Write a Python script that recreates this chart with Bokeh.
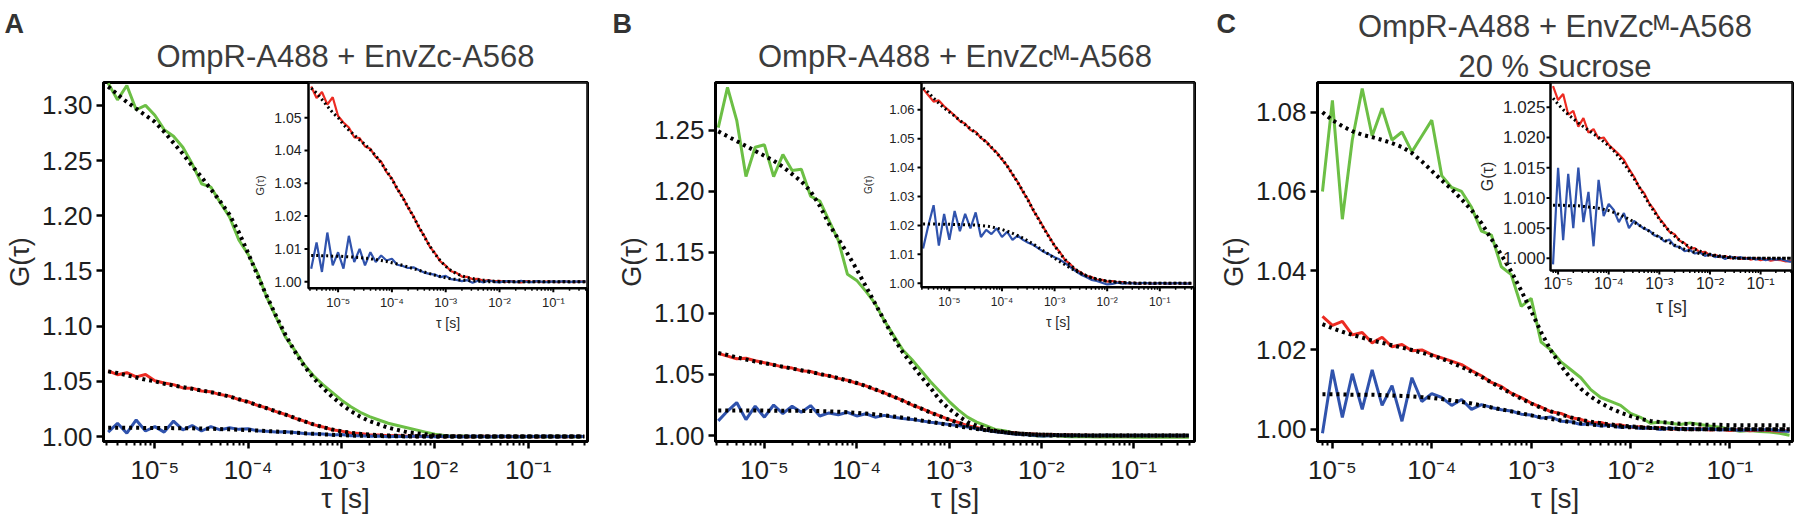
import math
from bokeh.plotting import figure
from bokeh.layouts import row
from bokeh.models import Range1d, FixedTicker, PrintfTickFormatter, Title, CustomJSTickFormatter
from bokeh.core.properties import value
from bokeh.embed import file_html
from bokeh.resources import INLINE

# ---------------- data ----------------
LOG_TAU_AB = [-5.5, -5.4, -5.3, -5.2, -5.1, -5.0, -4.9, -4.8, -4.7, -4.6,
              -4.5, -4.4, -4.3, -4.2, -4.1, -4.0, -3.9, -3.8, -3.7, -3.6,
              -3.5, -3.4, -3.3, -3.2, -3.1, -3.0, -2.9, -2.8, -2.7, -2.6,
              -2.5, -2.4, -2.3, -2.2, -2.1, -2.0, -1.9, -1.8, -1.7, -1.6,
              -1.5, -1.4, -1.3, -1.2, -1.1, -1.0, -0.9, -0.8, -0.7, -0.6,
              -0.5, -0.4]
LOG_TAU_C = [-5.1, -5.0, -4.9, -4.8, -4.7, -4.6, -4.5, -4.4, -4.3, -4.2,
             -4.1, -4.0, -3.9, -3.8, -3.7, -3.6, -3.5, -3.4, -3.3, -3.2,
             -3.1, -3.0, -2.9, -2.8, -2.7, -2.6, -2.5, -2.4, -2.3, -2.2,
             -2.1, -2.0, -1.9, -1.8, -1.7, -1.6, -1.5, -1.4, -1.3, -1.2,
             -1.1, -1.0, -0.9, -0.8, -0.7, -0.6, -0.5, -0.4]

# Panel A
A_GREEN = [1.320, 1.305, 1.318, 1.296, 1.300, 1.291, 1.278, 1.272, 1.262, 1.247,
           1.229, 1.226, 1.212, 1.199, 1.178, 1.165, 1.148, 1.126, 1.108, 1.090,
           1.078, 1.065, 1.055, 1.047, 1.040, 1.033, 1.027, 1.022, 1.018, 1.015,
           1.012, 1.010, 1.008, 1.006, 1.004, 1.002, 1.001, 1.000, 1.0005, 0.9998,
           1.0002, 0.9999, 1.0001, 1.0000, 0.9998, 1.0001, 1.0000, 0.9999, 1.0002, 1.0000,
           0.9999, 1.0001]
A_GREEN_FIT = [1.317, 1.310, 1.303, 1.297, 1.291, 1.285, 1.276, 1.266, 1.256, 1.245,
               1.235, 1.224, 1.213, 1.201, 1.185, 1.166, 1.146, 1.127, 1.109, 1.092,
               1.077, 1.064, 1.053, 1.044, 1.036, 1.029, 1.023, 1.018, 1.014, 1.011,
               1.008, 1.006, 1.004, 1.003, 1.002, 1.001, 1.0005, 1.0002, 1.0001, 1.0,
               1.0, 1.0, 1.0, 1.0, 1.0, 1.0, 1.0, 1.0, 1.0, 1.0,
               1.0, 1.0]
A_RED = [1.0595, 1.0560, 1.0578, 1.0540, 1.0562, 1.0505, 1.0485, 1.0470, 1.0440, 1.0438,
         1.0412, 1.0405, 1.0380, 1.0366, 1.0334, 1.0315, 1.0282, 1.0258, 1.0226, 1.0200,
         1.0166, 1.0140, 1.0108, 1.0087, 1.0062, 1.0049, 1.0032, 1.0027, 1.0016, 1.0015,
         1.0008, 1.0009, 1.0003, 1.0005, 1.0001, 1.0003, 0.9999, 1.0002, 1.0000, 0.9998,
         1.0002, 1.0000, 1.0001, 0.9999, 1.0001, 1.0000, 0.9999, 1.0001, 1.0000, 0.9999,
         1.0001, 1.0000]
A_RED_FIT = [1.0590, 1.0575, 1.0555, 1.0535, 1.0515, 1.0500, 1.0478, 1.0462, 1.0447, 1.0432,
             1.0418, 1.0402, 1.0384, 1.0362, 1.0338, 1.0312, 1.0284, 1.0256, 1.0228, 1.0198,
             1.0168, 1.0138, 1.0110, 1.0085, 1.0064, 1.0047, 1.0034, 1.0025, 1.0018, 1.0013,
             1.0010, 1.0007, 1.0005, 1.0003, 1.0002, 1.0001, 1.0001, 1.0, 1.0, 1.0,
             1.0, 1.0, 1.0, 1.0, 1.0, 1.0, 1.0, 1.0, 1.0, 1.0,
             1.0, 1.0]
A_BLUE = [1.004, 1.012, 1.003, 1.015, 1.005, 1.009, 1.004, 1.014, 1.006, 1.010,
          1.005, 1.009, 1.006, 1.008, 1.0065, 1.0070, 1.0052, 1.0048, 1.0042, 1.0044,
          1.0036, 1.0028, 1.0024, 1.0022, 1.0014, 1.0018, 1.0008, 1.0006, 1.0002, 1.0005,
          0.9997, 1.0003, 0.9998, 1.0004, 1.0000, 0.9998, 1.0002, 1.0001, 0.9999, 1.0003,
          1.0000, 0.9999, 1.0002, 1.0000, 0.9999, 1.0001, 1.0000, 1.0002, 0.9999, 1.0001,
          1.0000, 1.0001]
A_BLUE_FIT = [1.0080, 1.0080, 1.0079, 1.0079, 1.0078, 1.0078, 1.0077, 1.0076, 1.0075, 1.0074,
              1.0072, 1.0070, 1.0068, 1.0065, 1.0062, 1.0058, 1.0054, 1.0050, 1.0045, 1.0040,
              1.0035, 1.0030, 1.0025, 1.0020, 1.0016, 1.0012, 1.0009, 1.0007, 1.0005, 1.0004,
              1.0003, 1.0002, 1.0001, 1.0, 1.0, 1.0, 1.0, 1.0, 1.0, 1.0,
              1.0, 1.0, 1.0, 1.0, 1.0, 1.0, 1.0, 1.0, 1.0, 1.0,
              1.0, 1.0]

# Panel B
B_GREEN = [1.252, 1.285, 1.258, 1.212, 1.236, 1.238, 1.212, 1.230, 1.217, 1.218,
           1.196, 1.192, 1.176, 1.160, 1.132, 1.127, 1.118, 1.108, 1.094, 1.082,
           1.070, 1.062, 1.053, 1.044, 1.036, 1.028, 1.021, 1.015, 1.011, 1.008,
           1.005, 1.004, 1.002, 1.0015, 1.000, 0.9995, 1.0000, 0.9995, 0.9990, 0.9992,
           0.9990, 0.9988, 0.9990, 0.9987, 0.9989, 0.9986, 0.9988, 0.9986, 0.9987, 0.9985,
           0.9986, 0.9985]
B_GREEN_FIT = [1.249, 1.245, 1.241, 1.237, 1.233, 1.229, 1.225, 1.220, 1.214, 1.208,
               1.200, 1.188, 1.173, 1.161, 1.149, 1.136, 1.122, 1.108, 1.094, 1.080,
               1.068, 1.058, 1.048, 1.039, 1.029, 1.022, 1.016, 1.011, 1.008, 1.006,
               1.004, 1.0028, 1.0018, 1.001, 1.0005, 1.0002, 1.0001, 1.0, 1.0, 1.0,
               1.0, 1.0, 1.0, 1.0, 1.0, 1.0, 1.0, 1.0, 1.0, 1.0,
               1.0, 1.0]
B_RED = [1.0672, 1.0650, 1.0628, 1.0632, 1.0612, 1.0596, 1.0580, 1.0560, 1.0552, 1.0530,
         1.0524, 1.0502, 1.0490, 1.0468, 1.0452, 1.0428, 1.0406, 1.0376, 1.0350, 1.0316,
         1.0288, 1.0250, 1.0222, 1.0190, 1.0160, 1.0130, 1.0108, 1.0080, 1.0066, 1.0046,
         1.0038, 1.0025, 1.0022, 1.0013, 1.0012, 1.0006, 1.0008, 1.0003, 1.0004, 1.0000,
         1.0002, 0.9999, 1.0001, 1.0000, 0.9999, 1.0001, 1.0000, 0.9999, 1.0001, 1.0000,
         0.9999, 1.0000]
B_RED_FIT = [1.0675, 1.0660, 1.0640, 1.0622, 1.0606, 1.0592, 1.0578, 1.0563, 1.0548, 1.0534,
             1.0520, 1.0504, 1.0488, 1.0470, 1.0450, 1.0430, 1.0405, 1.0378, 1.0348, 1.0318,
             1.0285, 1.0252, 1.0220, 1.0188, 1.0158, 1.0130, 1.0104, 1.0082, 1.0063, 1.0048,
             1.0036, 1.0027, 1.0020, 1.0015, 1.0011, 1.0008, 1.0006, 1.0004, 1.0003, 1.0002,
             1.0001, 1.0, 1.0, 1.0, 1.0, 1.0, 1.0, 1.0, 1.0, 1.0,
             1.0, 1.0]
B_BLUE = [1.0120, 1.0200, 1.0270, 1.0130, 1.0240, 1.0150, 1.0250, 1.0180, 1.0240, 1.0190,
          1.0245, 1.0160, 1.0185, 1.0170, 1.0190, 1.0160, 1.0178, 1.0150, 1.0165, 1.0150,
          1.0140, 1.0132, 1.0120, 1.0108, 1.0100, 1.0090, 1.0082, 1.0070, 1.0056, 1.0042,
          1.0030, 1.0022, 1.0012, 1.0008, 1.0002, 0.9996, 0.9998, 1.0002, 0.9999, 1.0001,
          1.0000, 0.9999, 1.0002, 1.0000, 0.9999, 1.0001, 1.0000, 0.9999, 1.0001, 1.0000,
          0.9999, 1.0000]
B_BLUE_FIT = [1.0205, 1.0205, 1.0205, 1.0204, 1.0204, 1.0204, 1.0203, 1.0203, 1.0202, 1.0202,
              1.0201, 1.0200, 1.0198, 1.0195, 1.0191, 1.0186, 1.0180, 1.0173, 1.0165, 1.0156,
              1.0146, 1.0135, 1.0123, 1.0111, 1.0099, 1.0087, 1.0075, 1.0064, 1.0053, 1.0043,
              1.0034, 1.0026, 1.0019, 1.0014, 1.0010, 1.0007, 1.0005, 1.0003, 1.0002, 1.0001,
              1.0, 1.0, 1.0, 1.0, 1.0, 1.0, 1.0, 1.0, 1.0, 1.0,
              1.0, 1.0]

# Panel C
C_GREEN = [1.060, 1.083, 1.053, 1.073, 1.086, 1.074, 1.081, 1.073, 1.075, 1.070,
           1.074, 1.078, 1.064, 1.061, 1.060, 1.056, 1.050, 1.049, 1.041, 1.039,
           1.031, 1.033, 1.022, 1.020, 1.017, 1.015, 1.013, 1.010, 1.008, 1.007,
           1.006, 1.004, 1.003, 1.0015, 1.0018, 1.0015, 1.0012, 1.0016, 1.0012, 1.0008,
           1.0005, 1.0000, 0.9995, 0.9997, 0.9994, 0.9993, 0.9990, 0.9985]
C_GREEN_FIT = [1.0800, 1.0780, 1.0765, 1.0752, 1.0743, 1.0737, 1.0730, 1.0722, 1.0712, 1.0697,
               1.0676, 1.0652, 1.0628, 1.0606, 1.0580, 1.0553, 1.0520, 1.0480, 1.0440, 1.0398,
               1.0350, 1.0298, 1.0245, 1.0198, 1.0160, 1.0128, 1.0102, 1.0082, 1.0066, 1.0053,
               1.0042, 1.0033, 1.0026, 1.0021, 1.0018, 1.0016, 1.0014, 1.0013, 1.0012, 1.0011,
               1.0011, 1.0010, 1.0010, 1.0010, 1.0010, 1.0010, 1.0010, 1.0010]
C_RED = [1.0285, 1.0262, 1.0272, 1.0238, 1.0244, 1.0218, 1.0232, 1.0208, 1.0214, 1.0198,
         1.0200, 1.0188, 1.0180, 1.0172, 1.0163, 1.0148, 1.0135, 1.0118, 1.0108, 1.0091,
         1.0080, 1.0066, 1.0056, 1.0044, 1.0040, 1.0029, 1.0025, 1.0016, 1.0017, 1.0010,
         1.0011, 1.0005, 1.0006, 1.0002, 1.0004, 1.0000, 1.0002, 0.9999, 1.0001, 0.9998,
         1.0000, 0.9997, 0.9999, 0.9996, 0.9998, 0.9997, 0.9995, 0.9996]
C_RED_FIT = [1.0265, 1.0255, 1.0246, 1.0238, 1.0231, 1.0224, 1.0218, 1.0212, 1.0206, 1.0200,
             1.0193, 1.0186, 1.0178, 1.0168, 1.0157, 1.0145, 1.0132, 1.0118, 1.0104, 1.0090,
             1.0077, 1.0065, 1.0054, 1.0045, 1.0037, 1.0030, 1.0024, 1.0019, 1.0015, 1.0012,
             1.0009, 1.0007, 1.0005, 1.0004, 1.0003, 1.0002, 1.0001, 1.0, 1.0, 1.0,
             1.0, 1.0, 1.0, 1.0, 1.0, 1.0, 1.0, 1.0]
C_BLUE = [0.999, 1.015, 1.003, 1.014, 1.005, 1.015, 1.006, 1.011, 1.002, 1.013,
          1.007, 1.009, 1.008, 1.006, 1.0075, 1.005, 1.0062, 1.0055, 1.0049, 1.0046,
          1.0038, 1.0036, 1.0028, 1.0031, 1.0020, 1.0019, 1.0012, 1.0014, 1.0008, 1.0010,
          1.0004, 1.0007, 1.0002, 1.0004, 0.9999, 1.0003, 1.0000, 1.0002, 0.9999, 1.0001,
          0.9998, 1.0000, 0.9997, 0.9999, 0.9998, 0.9999, 0.9996, 0.9994]
C_BLUE_FIT = [1.0088, 1.0088, 1.0088, 1.0087, 1.0087, 1.0087, 1.0086, 1.0085, 1.0084, 1.0083,
              1.0081, 1.0079, 1.0076, 1.0073, 1.0069, 1.0065, 1.0060, 1.0055, 1.0050, 1.0045,
              1.0040, 1.0035, 1.0030, 1.0026, 1.0022, 1.0018, 1.0015, 1.0012, 1.0010, 1.0008,
              1.0006, 1.0005, 1.0004, 1.0003, 1.0002, 1.0001, 1.0, 1.0, 1.0, 1.0,
              1.0, 1.0, 1.0, 1.0, 1.0, 1.0, 1.0, 1.0]

# tick values / labels
MAIN_A_YTICKS = [1.00, 1.05, 1.10, 1.15, 1.20, 1.25, 1.30]
MAIN_B_YTICKS = [1.00, 1.05, 1.10, 1.15, 1.20, 1.25]
MAIN_C_YTICKS = [1.00, 1.02, 1.04, 1.06, 1.08]
INSET_A_YTICKS = [1.00, 1.01, 1.02, 1.03, 1.04, 1.05]
INSET_B_YTICKS = [1.00, 1.01, 1.02, 1.03, 1.04, 1.05, 1.06]
INSET_C_YTICKS = [1.000, 1.005, 1.010, 1.015, 1.020, 1.025]
DECADES = [-5, -4, -3, -2, -1]   # log10(tau) of the labelled x ticks

TITLE_A = ["OmpR-A488 + EnvZc-A568"]
TITLE_B = ["OmpR-A488 + EnvZc\u1D39-A568"]
TITLE_C = ["OmpR-A488 + EnvZc\u1D39-A568", "20 % Sucrose"]

# ---------------- styling ----------------
FONT = "Liberation Sans"
GREEN, RED, BLUE = "#6cbf45", "#ec2b22", "#3053ad"
HEIGHT = 516
FRAME_TOP, FRAME_BOTTOM = 82, 443
MINOR = [d + math.log10(k) for d in range(-6, 0) for k in range(2, 10)]
SUPMAP = str.maketrans("-0123456789", "\u207b\u2070\u00b9\u00b2\u00b3\u2074\u2075\u2076\u2077\u2078\u2079")


def sup_label(e):
    return "10" + str(e).translate(SUPMAP)


SUP = CustomJSTickFormatter(code="""
const e = Math.round(tick);
const m = {"-": "\u207b", "0": "\u2070", "1": "\u00b9", "2": "\u00b2", "3": "\u00b3",
           "4": "\u2074", "5": "\u2075", "6": "\u2076", "7": "\u2077", "8": "\u2078", "9": "\u2079"};
return "10" + String(e).split("").map(c => m[c]).join("");
""")


def main_fig(spec):
    x0, x1 = spec["fig_x"]
    L, R = spec["frame_x"]
    xr, yr = spec["xr"], spec["yr"]
    p = figure(width=x1 - x0, height=HEIGHT,
               x_range=Range1d(xr[0], xr[1]), y_range=Range1d(yr[0], yr[1]),
               output_backend="svg", toolbar_location=None, title=None,
               min_border_left=L - x0, min_border_right=x1 - R,
               min_border_top=FRAME_TOP, min_border_bottom=HEIGHT - FRAME_BOTTOM)
    p.grid.visible = False
    p.outline_line_color = "black"
    p.outline_line_width = 3
    for ax in (p.xaxis[0], p.yaxis[0]):
        ax.axis_line_width = 3
        ax.axis_line_color = "black"
        ax.major_tick_line_width = 2.5
        ax.minor_tick_line_width = 2
        ax.major_tick_in = 0
        ax.major_tick_out = 7
        ax.minor_tick_in = 0
        ax.minor_tick_out = 4
        ax.major_label_text_font = FONT
        ax.major_label_text_font_size = "26px"
        ax.major_label_text_color = "#1e1e1e"
        ax.axis_label_text_font = FONT
        ax.axis_label_text_font_style = "normal"
        ax.axis_label_text_color = "#2a2a2a"
    p.xaxis.ticker = FixedTicker(ticks=DECADES, minor_ticks=MINOR)
    p.xaxis.formatter = SUP
    p.xaxis.major_label_standoff = 6
    p.xaxis.axis_label = "\u03c4 [s]"
    p.xaxis.axis_label_text_font_size = "28px"
    p.xaxis.axis_label_standoff = -5
    p.yaxis.ticker = FixedTicker(ticks=spec["yticks"])
    p.yaxis.formatter = PrintfTickFormatter(format="%.2f")
    p.yaxis.minor_tick_line_color = None
    p.yaxis.major_label_standoff = 4
    p.yaxis.axis_label = "G(\u03c4)"
    p.yaxis.axis_label_text_font_size = "27px"
    p.yaxis.axis_label_standoff = 4

    tau = spec["logtau"]
    for vals, col in ((spec["green"], GREEN), (spec["red"], RED), (spec["blue"], BLUE)):
        p.line(tau, vals, line_color=col, line_width=3)
    for vals in (spec["green_fit"], spec["red_fit"], spec["blue_fit"]):
        p.line(tau, vals, line_color="black", line_width=4, line_dash="3 4")

    # titles (first added sits closest to the frame) and the panel letter
    for text, st in zip(reversed(spec["title"]), spec["title_standoff"]):
        p.add_layout(Title(text=text, align="center", text_font=FONT, text_font_size="31px",
                           text_font_style="normal", text_color="#3c3c3c", standoff=st), "above")
    p.add_layout(Title(text=spec["letter"], align="left", offset=spec["letter_x"] - L,
                       text_font=FONT, text_font_size="27px", text_font_style="bold",
                       text_color="#333333", standoff=spec["letter_standoff"]), "above")
    return p


def add_inset(p, spec):
    L, R = spec["frame_x"]
    xr, yr = spec["xr"], spec["yr"]
    iL, iR, iT, iB = spec["inset"]
    iy0, iy1 = spec["inset_yr"]
    ix0, ix1 = xr
    mx = (xr[1] - xr[0]) / (R - L)
    my = (yr[1] - yr[0]) / (FRAME_BOTTOM - FRAME_TOP)
    sub = p.subplot(
        x_source=Range1d(ix0, ix1), y_source=Range1d(iy0, iy1),
        x_target=Range1d(xr[0] + (iL - L) * mx, xr[0] + (iR - L) * mx),
        y_target=Range1d(yr[1] - (iB - FRAME_TOP) * my, yr[1] - (iT - FRAME_TOP) * my))
    sx = (ix1 - ix0) / (iR - iL)        # inset data units per pixel
    sy = (iy1 - iy0) / (iB - iT)
    st = spec["inset_style"]

    sub.quad(left=[ix0], right=[ix1], bottom=[iy0], top=[iy1],
             fill_color="white", line_color=None)
    tau = spec["logtau"]
    for vals, col in ((spec["red"], RED), (spec["blue"], BLUE)):
        sub.line(tau, vals, line_color=col, line_width=2.2)
    for vals in (spec["red_fit"], spec["blue_fit"]):
        sub.line(tau, vals, line_color="black", line_width=3, line_dash="2 3")
    sub.quad(left=[ix0], right=[ix1], bottom=[iy0], top=[iy1],
             fill_color=None, line_color="black", line_width=2.5)

    yt = spec["inset_yticks"]
    sub.segment(x0=[ix0] * len(yt), y0=yt, x1=[ix0 - 4 * sx] * len(yt), y1=yt,
                line_color="black", line_width=2)
    majors = [d for d in DECADES if ix0 <= d <= ix1]
    minors = [m for m in MINOR if ix0 <= m <= ix1]
    sub.segment(x0=majors, y0=[iy0] * len(majors), x1=majors, y1=[iy0 - 4 * sy] * len(majors),
                line_color="black", line_width=2)
    sub.segment(x0=minors, y0=[iy0] * len(minors), x1=minors, y1=[iy0 - 2.5 * sy] * len(minors),
                line_color="black", line_width=1.5)

    sub.text(x=[ix0 - st["ylab_gap"] * sx] * len(yt), y=yt,
             text=[st["fmt"] % v for v in yt], text_align="right", text_baseline="middle",
             text_font=value(FONT), text_font_size=f"{st['ytick']}px", text_color="#222222")
    sub.text(x=majors, y=[iy0 - st["xlab_gap"] * sy] * len(majors),
             text=[sup_label(d) for d in majors], text_align="center", text_baseline="top",
             text_font=value(FONT), text_font_size=f"{st['xtick']}px", text_color="#222222")
    sub.text(x=[(ix0 + ix1) / 2], y=[iy0 - st["tau_gap"] * sy], text=["\u03c4 [s]"],
             text_align="center", text_baseline="middle",
             text_font=value(FONT), text_font_size=f"{st['tau']}px", text_color="#2a2a2a")
    sub.text(x=[ix0 - st["g_gap"] * sx], y=[(iy0 + iy1) / 2], text=["G(\u03c4)"],
             angle=math.pi / 2, text_align="center", text_baseline="middle",
             text_font=value(FONT), text_font_size=f"{st['g']}px", text_color="#2a2a2a")


SPECS = [
    dict(letter="A", letter_x=4, title=TITLE_A, title_standoff=[17], letter_standoff=-21,
         logtau=LOG_TAU_AB, frame_x=(103, 587), fig_x=(0, 591),
         xr=(-5.55, -0.365), yr=(0.9955, 1.3207), yticks=MAIN_A_YTICKS,
         green=A_GREEN, green_fit=A_GREEN_FIT, red=A_RED, red_fit=A_RED_FIT,
         blue=A_BLUE, blue_fit=A_BLUE_FIT,
         inset=(308, 587, 82, 289), inset_yr=(0.998, 1.0607), inset_yticks=INSET_A_YTICKS,
         inset_style=dict(fmt="%.2f", ytick=14, xtick=13, tau=14, g=11,
                          ylab_gap=7, xlab_gap=7, tau_gap=35, g_gap=49)),
    dict(letter="B", letter_x=612, title=TITLE_B, title_standoff=[17], letter_standoff=-21,
         logtau=LOG_TAU_AB, frame_x=(715, 1194), fig_x=(591, 1198),
         xr=(-5.53, -0.34), yr=(0.9951, 1.289), yticks=MAIN_B_YTICKS,
         green=B_GREEN, green_fit=B_GREEN_FIT, red=B_RED, red_fit=B_RED_FIT,
         blue=B_BLUE, blue_fit=B_BLUE_FIT,
         inset=(921, 1194, 82, 288), inset_yr=(0.9986, 1.0694), inset_yticks=INSET_B_YTICKS,
         inset_style=dict(fmt="%.2f", ytick=13, xtick=12, tau=14, g=10,
                          ylab_gap=7, xlab_gap=8, tau_gap=35, g_gap=53)),
    dict(letter="C", letter_x=1216, title=TITLE_C, title_standoff=[-3, 9], letter_standoff=-73,
         logtau=LOG_TAU_C, frame_x=(1317, 1792), fig_x=(1198, 1800),
         xr=(-5.15, -0.37), yr=(0.9969, 1.0875), yticks=MAIN_C_YTICKS,
         green=C_GREEN, green_fit=C_GREEN_FIT, red=C_RED, red_fit=C_RED_FIT,
         blue=C_BLUE, blue_fit=C_BLUE_FIT,
         inset=(1550, 1792, 82, 271), inset_yr=(0.998, 1.0291), inset_yticks=INSET_C_YTICKS,
         inset_style=dict(fmt="%.3f", ytick=17, xtick=16, tau=18, g=16,
                          ylab_gap=5, xlab_gap=5, tau_gap=37, g_gap=63)),
]

figs = []
for s in SPECS:
    p = main_fig(s)
    add_inset(p, s)
    figs.append(p)

layout = row(figs, spacing=0)
open("out.html", "w").write(file_html(layout, INLINE))
